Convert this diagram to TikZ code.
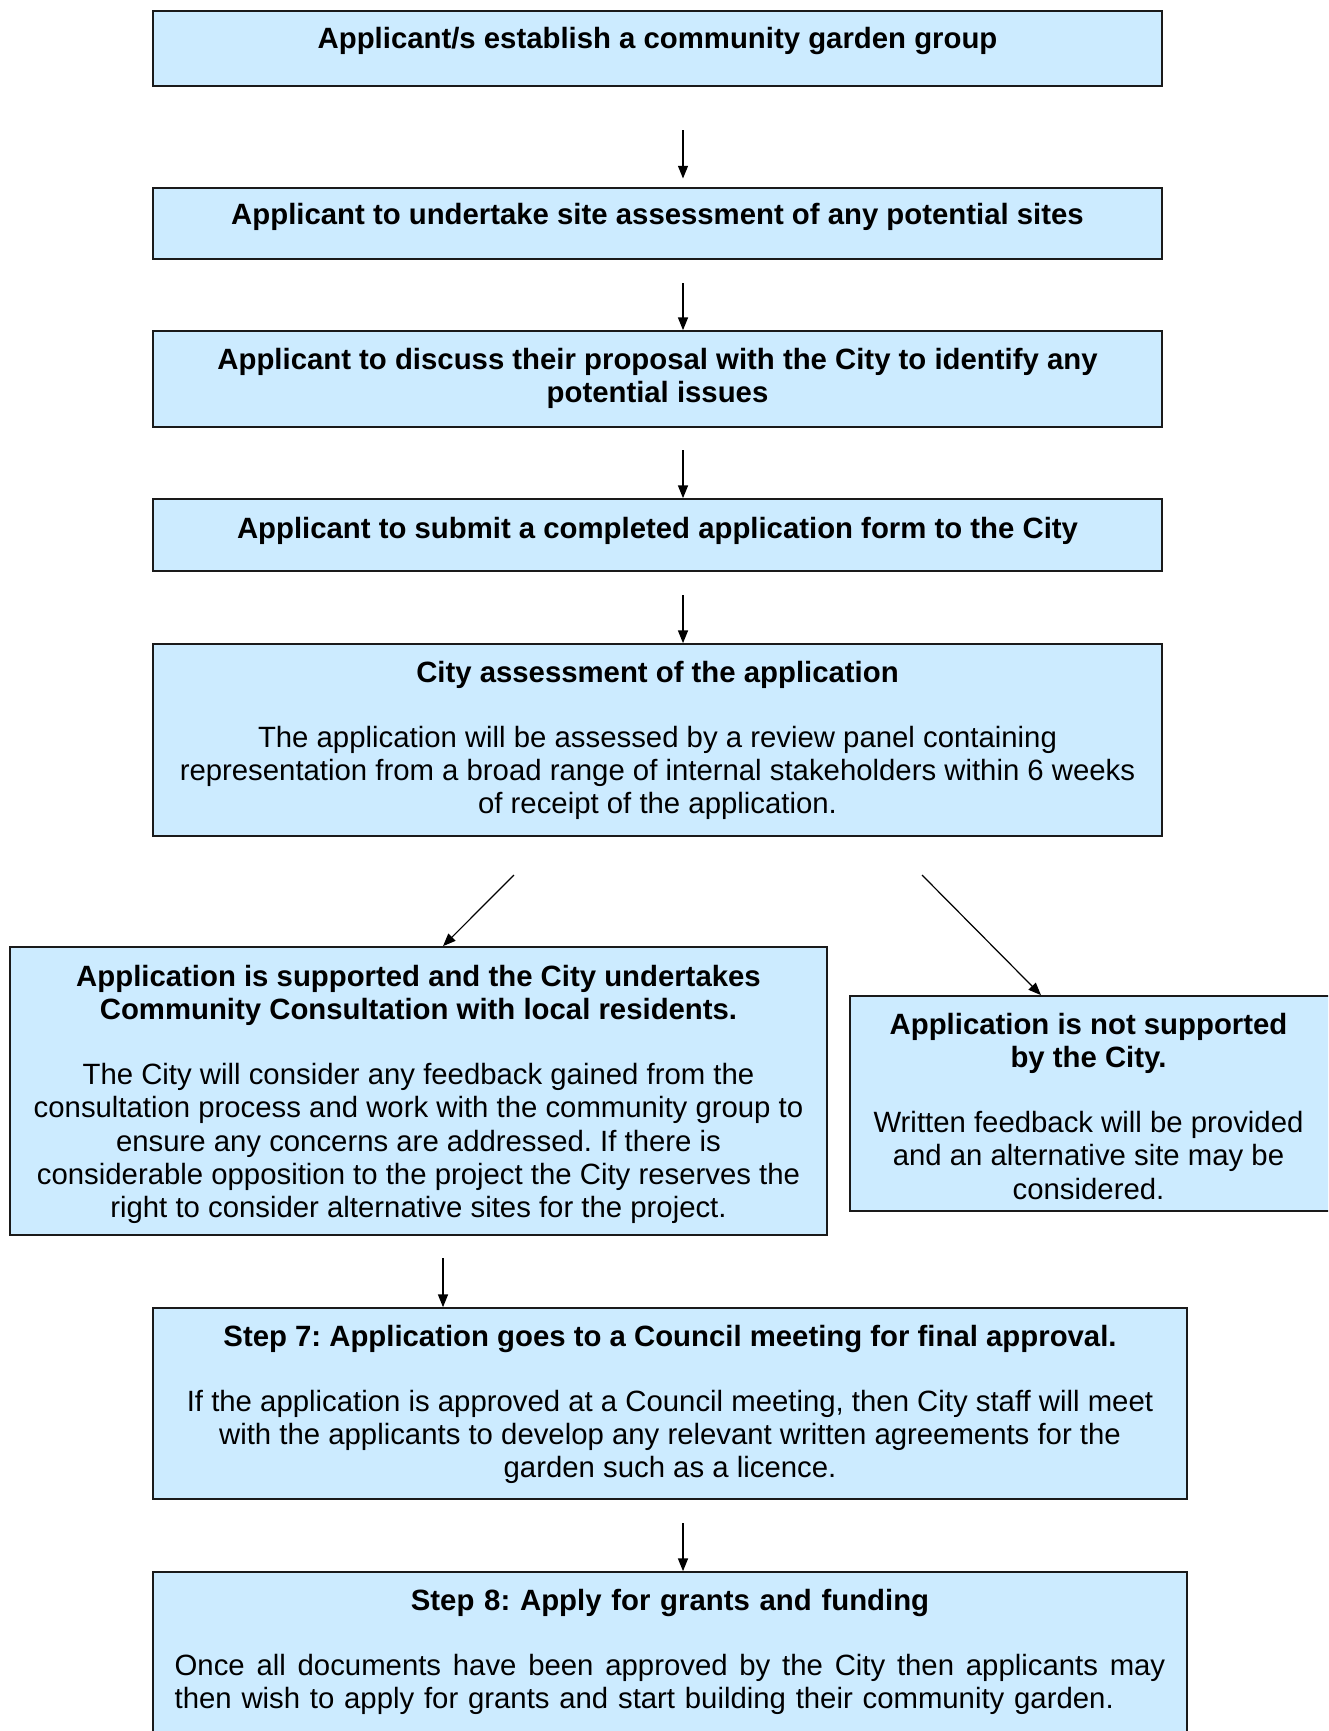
\documentclass[tikz,border=0pt]{standalone}
\usepackage{fontspec}
\setmainfont{Liberation Sans}
\usetikzlibrary{arrows.meta}
\definecolor{boxfill}{HTML}{CCEBFF}
\definecolor{boxline}{HTML}{1A1A1A}
\newcommand{\fl}{\rule{0pt}{22pt}}
\frenchspacing
\begin{document}
\begin{tikzpicture}[x=0.75pt,y=-0.75pt,
  box/.style={draw=boxline, line width=1.3pt, fill=boxfill, rectangle, inner sep=0pt},
  txt/.style={align=center, inner sep=0pt, anchor=north, font=\fontsize{22}{25}\selectfont},
  arr/.style={line width=0.9pt, -{Triangle[length=9.5pt,width=7.5pt]}}]
\clip (0,0) rectangle (1328,1731);
\fill[white] (0,0) rectangle (1328,1731);

% boxes
\node[box, minimum width=756.75pt, minimum height=56.25pt] (b1) at (657.5,48.5) {};
\node[box, minimum width=756.75pt, minimum height=53.25pt] (b2) at (657.5,223.5) {};
\node[box, minimum width=756.75pt, minimum height=72pt] (b3) at (657.5,379) {};
\node[box, minimum width=756.75pt, minimum height=54pt] (b4) at (657.5,535) {};
\node[box, minimum width=756.75pt, minimum height=144pt] (b5) at (657.5,740) {};
\node[box, minimum width=612.75pt, minimum height=216pt] (b6) at (418.5,1091) {};
\node[box, minimum width=367.5pt, minimum height=161.25pt] (b7) at (1095,1103.5) {};
\node[box, minimum width=775.5pt, minimum height=143.25pt] (b8) at (670,1403.5) {};
\node[box, minimum width=775.5pt, minimum height=141pt] (b9) at (670,1666) {};

% texts
\node[txt] (t1) at (657.5,19.3) {\fl\textbf{Applicant/s establish a community garden group}};
\node[txt] (t2) at (657.5,194.7) {\fl\textbf{Applicant to undertake site assessment of any potential sites}};
\node[txt] (t3) at (657.5,339.7) {\fl\textbf{Applicant to discuss their proposal with the City to identify any}\\\textbf{potential issues}};
\node[txt] (t4) at (657.5,508.7) {\fl\textbf{Applicant to submit a completed application form to the City}};
\node[txt] (t5) at (657.5,652.7) {\fl\textbf{City assessment of the application}\\[23.75pt]
  The application will be assessed by a review panel containing\\
  representation from a broad range of internal stakeholders within 6 weeks\\
  of receipt of the application.};
\node[txt] (t6) at (418.5,956.7) {\fl\textbf{Application is supported and the City undertakes}\\
  \textbf{Community Consultation with local residents.}\\[23.75pt]
  The City will consider any feedback gained from the\\
  consultation process and work with the community group to\\
  ensure any concerns are addressed. If there is\\
  considerable opposition to the project the City reserves the\\
  right to consider alternative sites for the project.};
\node[txt] (t7) at (1088.5,1004.7) {\fl\textbf{Application is not supported}\\
  \textbf{by the City.}\\[23.75pt]
  Written feedback will be provided\\
  and an alternative site may be\\
  considered.};
\node[txt] (t8) at (670,1316.7) {\fl\textbf{Step 7: Application goes to a Council meeting for final approval.}\\[23.75pt]
  If the application is approved at a Council meeting, then City staff will meet\\
  with the applicants to develop any relevant written agreements for the\\
  garden such as a licence.};
\node[txt, text width=743pt] (t9) at (670,1580.7) {\fl\textbf{Step 8: Apply for grants and funding}\\[23.75pt]
  \leavevmode{\spaceskip=0.278em plus 2em\relax\hbox to 743pt{Once all documents have been approved by the City then applicants may}}\\
  \leavevmode\hbox to 743pt{then wish to apply for grants and start building their community garden.\hfil}};

% connectors
\coordinate (s1) at (683,130);
\coordinate (s2) at (683,283);
\coordinate (s3) at (683,450);
\coordinate (s4) at (683,595);
\coordinate (s5) at (514,875);
\coordinate (s6) at (922,875);
\coordinate (s7) at (443,1258);
\coordinate (s8) at (683,1523);
\draw[arr, shorten >=6.5pt] (s1) -- (s1 |- b2.north);
\draw[arr] (s2) -- (s2 |- b3.north);
\draw[arr] (s3) -- (s3 |- b4.north);
\draw[arr] (s4) -- (s4 |- b5.north);
\draw[arr] (s5) -- (b6.north -| s7);
\draw[arr] (s6) -- ([xshift=-40.5pt]b7.north);
\draw[arr] (s7) -- (s7 |- b8.north);
\draw[arr] (s8) -- (s8 |- b9.north);
\end{tikzpicture}
\end{document}
